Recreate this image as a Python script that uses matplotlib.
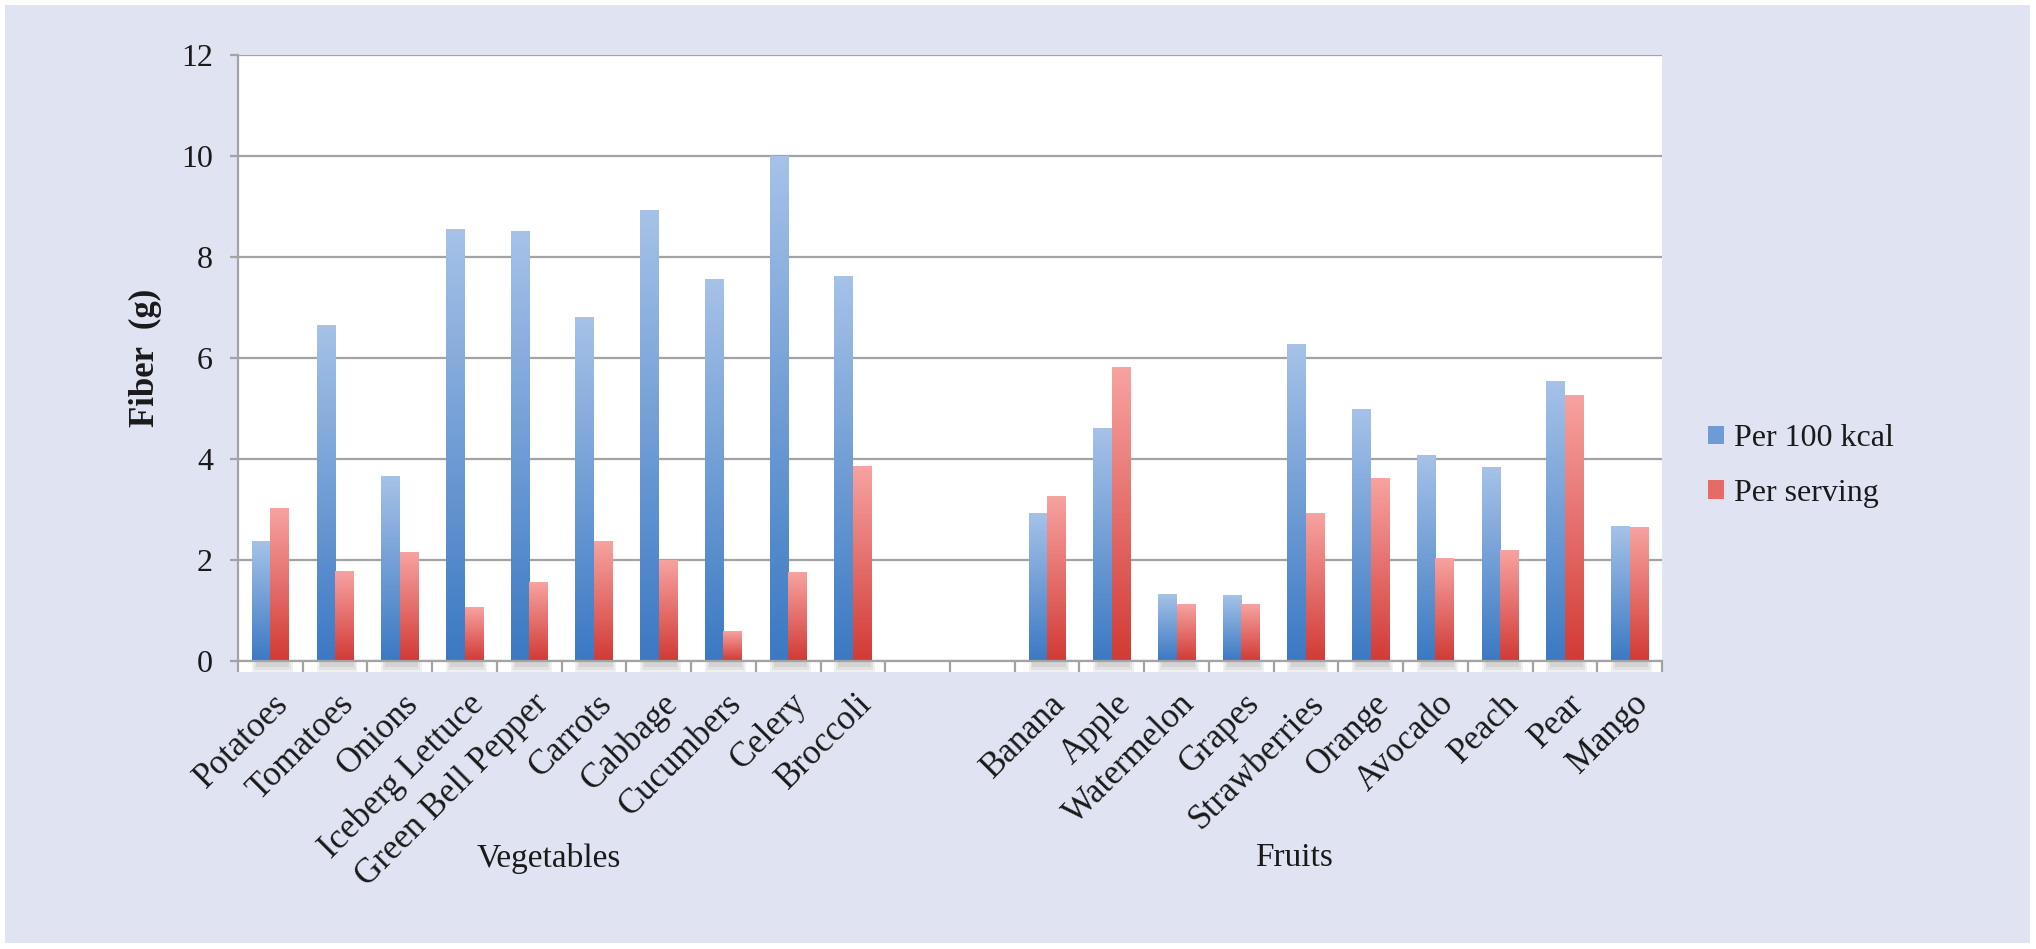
import numpy as np
import matplotlib
matplotlib.use("Agg")
import matplotlib.pyplot as plt
import matplotlib.transforms as mtransforms
from matplotlib.colors import LinearSegmentedColormap
from matplotlib.patches import Rectangle, Patch

plt.rcParams['font.family'] = ['Liberation Serif', 'DejaVu Serif']

vegetables = ['Potatoes', 'Tomatoes', 'Onions', 'Iceberg Lettuce', 'Green Bell Pepper',
              'Carrots', 'Cabbage', 'Cucumbers', 'Celery', 'Broccoli']
fruits = ['Banana', 'Apple', 'Watermelon', 'Grapes', 'Strawberries',
          'Orange', 'Avocado', 'Peach', 'Pear', 'Mango']

veg_per_100kcal = [2.36, 6.65, 3.66, 8.54, 8.50, 6.80, 8.93, 7.56, 10.0, 7.62]
veg_per_serving = [3.02, 1.77, 2.15, 1.06, 1.55, 2.36, 1.99, 0.58, 1.76, 3.86]
fruit_per_100kcal = [2.92, 4.60, 1.32, 1.29, 6.27, 4.98, 4.07, 3.83, 5.54, 2.66]
fruit_per_serving = [3.26, 5.81, 1.11, 1.12, 2.93, 3.62, 2.03, 2.19, 5.25, 2.64]

# two empty slots between the groups
labels = vegetables + ['', ''] + fruits
per_100kcal = veg_per_100kcal + [np.nan, np.nan] + fruit_per_100kcal
per_serving = veg_per_serving + [np.nan, np.nan] + fruit_per_serving
x = np.arange(len(labels))

grey = '#A3A3A3'
ink = '#1A1A1A'

fig = plt.figure(figsize=(20.36, 9.49), dpi=100, facecolor='white')
fig.patches.append(Rectangle((5 / 2036, 6 / 949), 2025 / 2036, 938 / 949,
                             transform=fig.transFigure, facecolor='#DFE3F2',
                             edgecolor='none', zorder=-10))

ax = fig.add_axes([238 / 2036, 288 / 949, 1424 / 2036, 606 / 949])
ax.set_facecolor('white')

bw = 0.286
bars1 = ax.bar(x - bw / 2, per_100kcal, bw, color='none', edgecolor='none')
bars2 = ax.bar(x + bw / 2, per_serving, bw, color='none', edgecolor='none')


def fill_gradient(bars, top, bottom):
    cmap = LinearSegmentedColormap.from_list('grad', [bottom, top])
    grad = np.linspace(1, 0, 256).reshape(-1, 1)
    for p in bars:
        h = p.get_height()
        if not np.isfinite(h) or h <= 0:
            continue
        x0 = p.get_x()
        w = p.get_width()
        ax.imshow(grad, cmap=cmap, extent=[x0, x0 + w, 0, h], aspect='auto',
                  origin='upper', zorder=3, interpolation='bilinear')


fill_gradient(bars1, '#A6C2E8', '#3B79C3')
fill_gradient(bars2, '#F7A3A1', '#D23A35')

# soft shadow under each pair of bars
for xi, v in zip(x, per_100kcal):
    if np.isfinite(v):
        for k, a in enumerate([0.10, 0.10, 0.12]):
            d = 0.03 * k
            ax.add_patch(Rectangle((xi - bw + d, -0.22 + 0.05 * k), 2 * bw + 0.06 - 2 * d,
                                   0.22 - 0.05 * k, facecolor='#707070', alpha=a,
                                   edgecolor='none', clip_on=False, zorder=1))

# white floor strip under the axis line
ax.add_patch(Rectangle((0, -0.018), 1, 0.018, transform=ax.transAxes, facecolor='white',
                       edgecolor='none', clip_on=False, zorder=0))

ax.set_xlim(-0.5, len(labels) - 0.5)
ax.set_ylim(0, 12)
ax.set_yticks(range(0, 13, 2))
ax.yaxis.grid(True, color=grey, lw=1.6)
ax.set_axisbelow(True)

for s in ['top', 'right']:
    ax.spines[s].set_visible(False)
for s in ['left', 'bottom']:
    ax.spines[s].set_color(grey)
    ax.spines[s].set_linewidth(1.6)
    ax.spines[s].set_zorder(5)

ax.set_xticks(np.arange(len(labels) + 1) - 0.5)
ax.set_xticklabels([])
ax.tick_params(axis='x', which='major', length=8, width=1.6, color=grey)
ax.set_xticks(x, minor=True)
ax.set_xticklabels(labels, minor=True, rotation=45, ha='right', rotation_mode='anchor',
                   fontsize=25, color=ink)
ax.tick_params(axis='x', which='minor', length=0, pad=19)
offset = mtransforms.ScaledTranslation(2 / 100, 0, fig.dpi_scale_trans)
for lab in ax.get_xticklabels(minor=True):
    lab.set_transform(lab.get_transform() + offset)

ax.tick_params(axis='y', length=6, width=1.6, color=grey, pad=12, labelsize=23,
               labelcolor=ink)

ax.set_ylabel('Fiber  (g)', fontsize=25, fontweight='bold', color=ink)
ax.yaxis.set_label_coords((162 - 238) / 1424, 0.5)

fig.text(549 / 2036, 1 - 858 / 949, 'Vegetables', ha='center', va='center',
         fontsize=24, color=ink)
fig.text(1294 / 2036, 1 - 858 / 949, 'Fruits', ha='center', va='center',
         fontsize=24, color=ink)

handles = [Patch(facecolor='#6E9AD5', edgecolor='none'),
           Patch(facecolor='#E66B67', edgecolor='none')]
fig.legend(handles, ['Per 100 kcal', 'Per serving'], loc='center left',
           bbox_to_anchor=(1708 / 2036, 1 - 466 / 949), frameon=False, fontsize=23,
           handlelength=0.5, handleheight=0.5, handletextpad=0.3, labelspacing=0.81,
           borderpad=0, borderaxespad=0, labelcolor=ink)

fig.savefig('out.png', dpi=100, facecolor='white')
